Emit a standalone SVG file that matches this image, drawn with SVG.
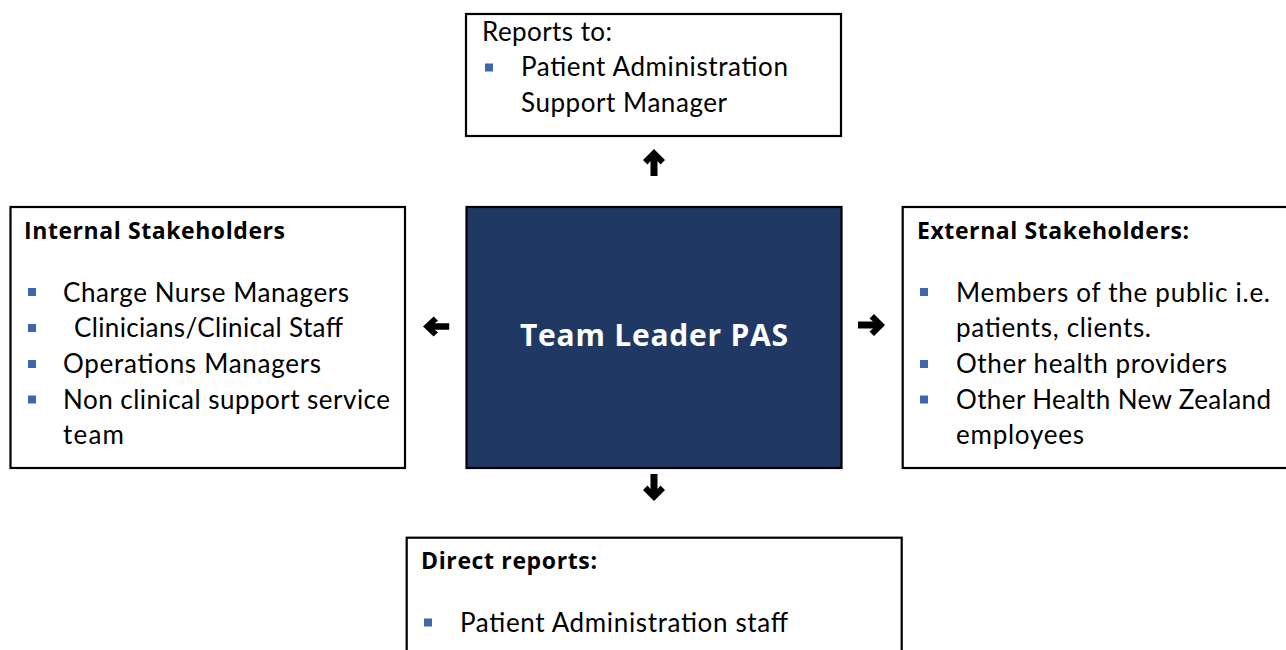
<svg xmlns="http://www.w3.org/2000/svg" xmlns:xlink="http://www.w3.org/1999/xlink" width="1286" height="650" viewBox="0 0 1286 650">
  <style>
    .box { fill: #ffffff; stroke: #000000; stroke-width: 2.2; }
    .core { fill: #203864; stroke: #000000; stroke-width: 2.2; }
    .txt { font-family: Lato, "Open Sans", sans-serif; font-size: 26px; fill: #000000; }
    .head { font-family: "Open Sans", Lato, sans-serif; font-size: 23px; font-weight: bold; fill: #000000; }
    .title { font-family: "Open Sans", Lato, sans-serif; font-size: 30px; font-weight: bold; fill: #ffffff; }
    .bullet { fill: #3F65AF; }
    .arrow { fill: #000000; }
  </style>
  <defs>
    <!-- bold arrow pointing right, tip at the origin -->
    <path id="arrow" d="M0 0 L-11 -11 L-15.5 -6.5 L-12 -3.5 L-27 -3.5 L-27 3.5 L-12 3.5 L-15.5 6.5 L-11 11 Z"/>
    <rect id="sq" width="8" height="8"/>
  </defs>

  <rect width="1286" height="650" fill="#ffffff"/>

  <!-- Reports to -->
  <g id="reports-to">
    <rect class="box" x="466" y="14" width="375" height="122"/>
    <text class="txt" x="482" y="40.5" textLength="130">Reports to:</text>
    <use href="#sq" class="bullet" x="485" y="63.5"/>
    <text class="txt" x="521" y="76.3" textLength="267">Patient Administration</text>
    <text class="txt" x="521" y="112.1" textLength="206">Support Manager</text>
  </g>

  <!-- Internal stakeholders -->
  <g id="internal-stakeholders">
    <rect class="box" x="10.5" y="207" width="394.5" height="261"/>
    <text class="head" x="24" y="238.5" textLength="261">Internal Stakeholders</text>
    <use href="#sq" class="bullet" x="28" y="288"/>
    <text class="txt" x="63" y="301.5" textLength="286">Charge Nurse Managers</text>
    <use href="#sq" class="bullet" x="28" y="324"/>
    <text class="txt" x="74" y="337.3" textLength="269">Clinicians/Clinical Staff</text>
    <use href="#sq" class="bullet" x="28" y="360"/>
    <text class="txt" x="63" y="373.1" textLength="258">Operations Managers</text>
    <use href="#sq" class="bullet" x="28" y="395.5"/>
    <text class="txt" x="63" y="408.7" textLength="327">Non clinical support service</text>
    <text class="txt" x="63" y="444.3" textLength="61">team</text>
  </g>

  <!-- Central role -->
  <g id="team-leader">
    <rect class="core" x="466.5" y="207" width="375" height="261"/>
    <text class="title" x="654" y="346" text-anchor="middle" textLength="268">Team Leader PAS</text>
  </g>

  <!-- External stakeholders -->
  <g id="external-stakeholders">
    <rect class="box" x="902.7" y="207" width="400" height="261"/>
    <text class="head" x="917" y="238.5" textLength="272">External Stakeholders:</text>
    <use href="#sq" class="bullet" x="920" y="288"/>
    <text class="txt" x="956" y="301.5" textLength="314">Members of the public i.e.</text>
    <text class="txt" x="956" y="337.3" textLength="195">patients, clients.</text>
    <use href="#sq" class="bullet" x="920" y="360"/>
    <text class="txt" x="956" y="373.1" textLength="271">Other health providers</text>
    <use href="#sq" class="bullet" x="920" y="395.5"/>
    <text class="txt" x="956" y="408.7" textLength="315">Other Health New Zealand</text>
    <text class="txt" x="956" y="444.3" textLength="128">employees</text>
  </g>

  <!-- Direct reports -->
  <g id="direct-reports">
    <rect class="box" x="406.7" y="537.7" width="495" height="130"/>
    <text class="head" x="421" y="568.5" textLength="176">Direct reports:</text>
    <use href="#sq" class="bullet" x="424" y="618.5"/>
    <text class="txt" x="460" y="632" textLength="328">Patient Administration staff</text>
  </g>

  <!-- Relationship arrows -->
  <g id="connectors" class="arrow">
    <use href="#arrow" transform="translate(654,149) rotate(-90)"/>
    <use href="#arrow" transform="translate(654,501) rotate(90)"/>
    <use href="#arrow" transform="translate(423,326.5) rotate(180) scale(0.97,0.9)"/>
    <use href="#arrow" transform="translate(885,325)"/>
  </g>
</svg>
